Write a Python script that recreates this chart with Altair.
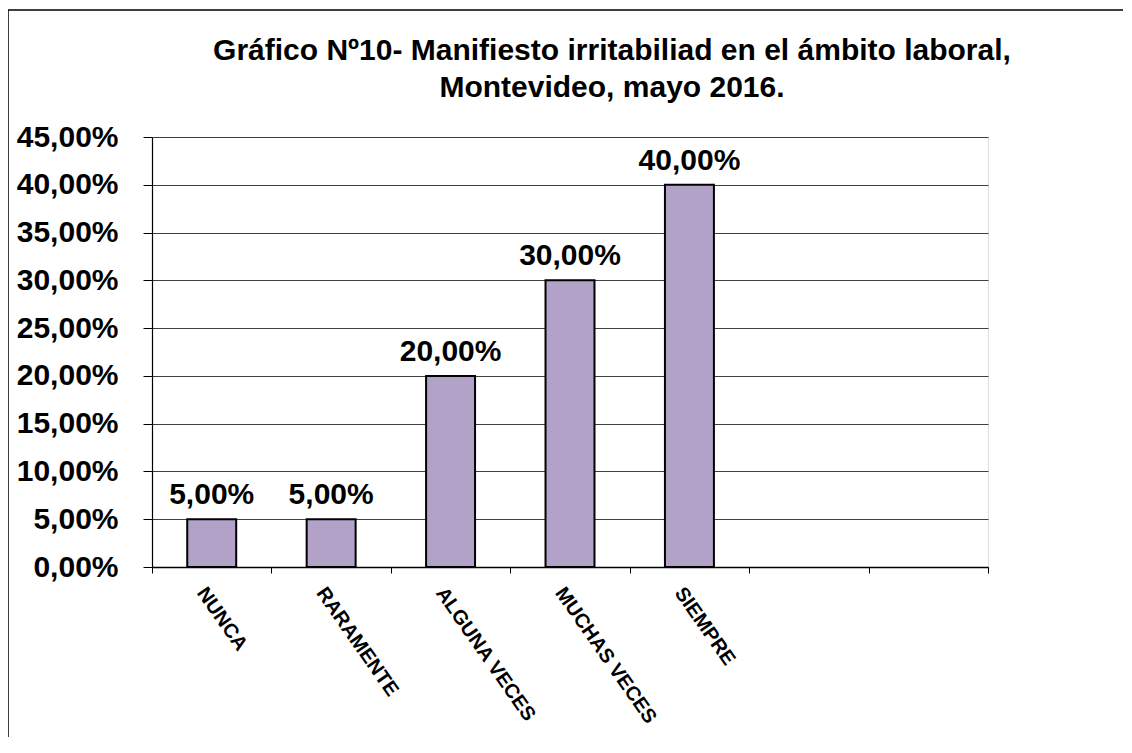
import altair as alt
import pandas as pd

# ---- data ----
categories = ["NUNCA", "RARAMENTE", "ALGUNA VECES", "MUCHAS VECES", "SIEMPRE"]
values = [0.05, 0.05, 0.20, 0.30, 0.40]
empty_slots = ["", " "]
y_ticks = [0.0, 0.05, 0.10, 0.15, 0.20, 0.25, 0.30, 0.35, 0.40, 0.45]
title_lines = ["Gráfico Nº10- Manifiesto irritabiliad en el ámbito laboral,",
               "Montevideo, mayo 2016."]

df = pd.DataFrame({"categoria": categories, "valor": values})

FONT = "Liberation Sans"
W, H = 836, 430
PCT = "replace(format(datum.valor, '.2%'), '.', ',')"

x = alt.X(
    "categoria:N",
    sort=None,
    scale=alt.Scale(domain=categories + empty_slots, paddingInner=0, paddingOuter=0),
    axis=alt.Axis(
        title=None, labelAngle=55, labelAlign="left", labelBaseline="middle",
        labelFont=FONT, labelFontSize=20, labelFontWeight="bold", labelColor="black",
        labelPadding=16, labelOffset=-11, tickBand="extent", tickSize=6,
        tickColor="black", domainColor="black", domainWidth=1.5, grid=False,
        labelOverlap=False,
    ),
)
y = alt.Y(
    "valor:Q",
    scale=alt.Scale(domain=[0, 0.45], nice=False, zero=True),
    axis=alt.Axis(
        title=None, values=y_ticks,
        labelExpr="replace(format(datum.value, '.2%'), '.', ',')",
        labelFont=FONT, labelFontSize=30, labelFontWeight="bold", labelColor="black",
        labelPadding=25, tickSize=9, tickColor="black", domainColor="black",
        domainWidth=1.2, gridColor="#404040", gridWidth=1.2,
    ),
)

base = alt.Chart(df).encode(x=x, y=y)

bars = base.mark_bar(
    color="#B3A2C7", stroke="black", strokeWidth=2,
    width=alt.RelativeBandSize(0.41),
)

labels = base.transform_calculate(label=PCT).mark_text(
    baseline="alphabetic", dy=-15, font=FONT, fontSize=30, fontWeight="bold",
    color="black",
).encode(text="label:N")

border = alt.Chart(pd.DataFrame({"k": [0]})).mark_rect(
    filled=False, stroke="black", strokeWidth=1.5,
).encode(
    x=alt.value(-144), x2=alt.value(W + 400),
    y=alt.value(-127), y2=alt.value(H + 400),
)

chart = alt.layer(border, bars, labels).properties(
    width=W, height=H,
    title=alt.TitleParams(
        text=title_lines, font=FONT, fontSize=30, fontWeight="bold", color="black",
        anchor="middle", dx=42, frame="group", offset=0, lineHeight=37,
        baseline="bottom", dy=124,
    ),
    padding={"left": 144, "top": 129, "right": 135, "bottom": 170},
    autosize=alt.AutoSizeParams(type="none"),
).configure_view(
    stroke="#BFBFBF", strokeWidth=1
).configure(background="white")

chart.save("out.html", embed_options={"renderer": "svg", "actions": False})
